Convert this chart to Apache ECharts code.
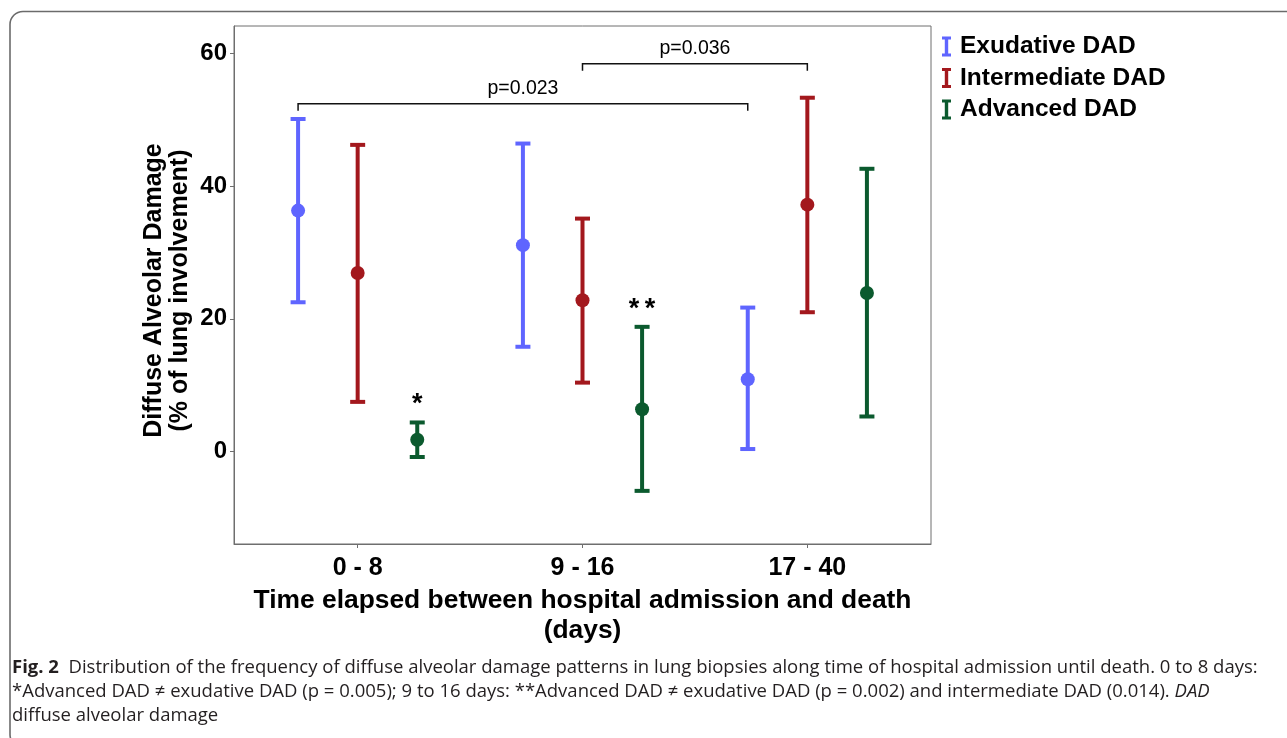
<!DOCTYPE html>
<html><head><meta charset="utf-8">
<script src="https://cdn.jsdelivr.net/npm/echarts@6/dist/echarts.min.js"></script>
<style>html,body{margin:0;padding:0;background:#fff}#c{width:1287px;height:738px}</style>
</head><body><div id="c"></div>
<script>
// ---------- data ----------
const categories = ['0 - 8', '9 - 16', '17 - 40'];
const seriesNames = ['Exudative DAD', 'Intermediate DAD', 'Advanced DAD'];
const exudativeMean = [36.3, 31.1, 10.9];
const exudativeLow = [22.5, 15.8, 0.4];
const exudativeHigh = [50.1, 46.4, 21.7];
const intermediateMean = [26.9, 22.8, 37.2];
const intermediateLow = [7.5, 10.4, 21.0];
const intermediateHigh = [46.2, 35.1, 53.3];
const advancedMean = [1.8, 6.4, 23.9];
const advancedLow = [-0.8, -5.9, 5.3];
const advancedHigh = [4.4, 18.8, 42.6];
const advancedMarks = ['*', '**', ''];
const yTicks = [0, 20, 40, 60];
const bracketLabels = ['p=0.023', 'p=0.036'];
const bracketLevels = [52.4, 58.4];
const bracketFrom = [[0, 0], [1, 1]]; // [category, series]
const bracketTo = [[2, 0], [2, 1]];

// ---------- style / layout ----------
const colors = ['#5F65FF', '#A3181D', '#0B5A2E'];
const groupOffset = [-0.265, 0, 0.265];
const FONT = '"Liberation Sans", Arial, Helvetica, sans-serif';

const means = [exudativeMean, intermediateMean, advancedMean];
const lows = [exudativeLow, intermediateLow, advancedLow];
const highs = [exudativeHigh, intermediateHigh, advancedHigh];
const marks = [null, null, advancedMarks];

function errorBarSeries(idx) {
  return {
    type: 'custom',
    name: seriesNames[idx],
    coordinateSystem: 'cartesian2d',
    encode: { x: 0, y: [1, 2, 3] },
    data: categories.map((c, i) => [i + 1, means[idx][i], lows[idx][i], highs[idx][i]]),
    renderItem: function (params, api) {
      const x = api.value(0) + groupOffset[idx];
      const pm = api.coord([x, api.value(1)]);
      const pl = api.coord([x, api.value(2)]);
      const ph = api.coord([x, api.value(3)]);
      const hw = 7.5;
      const c = colors[idx];
      const st = { stroke: c, lineWidth: 4 };
      const children = [
        { type: 'line', shape: { x1: pm[0], y1: ph[1], x2: pm[0], y2: pl[1] }, style: st },
        { type: 'line', shape: { x1: pm[0] - hw, y1: ph[1], x2: pm[0] + hw, y2: ph[1] }, style: st },
        { type: 'line', shape: { x1: pm[0] - hw, y1: pl[1], x2: pm[0] + hw, y2: pl[1] }, style: st },
        { type: 'circle', shape: { cx: pm[0], cy: pm[1], r: 7 }, style: { fill: c } }
      ];
      const m = marks[idx] ? marks[idx][params.dataIndex] : '';
      if (m) {
        children.push({
          type: 'text', x: pm[0], y: ph[1] - 4,
          style: { text: m.split('').join('\u2009'), font: 'bold 27px ' + FONT, fill: '#000', align: 'center', verticalAlign: 'bottom' }
        });
      }
      return { type: 'group', children: children };
    }
  };
}

const bracketSeries = {
  type: 'custom',
  coordinateSystem: 'cartesian2d',
  silent: true,
  data: bracketLabels.map((l, i) => [bracketFrom[i][0] + 1, bracketTo[i][0] + 1, bracketLevels[i]]),
  encode: { x: [0, 1], y: 2 },
  renderItem: function (params, api) {
    const i = params.dataIndex;
    const x1 = api.value(0) + groupOffset[bracketFrom[i][1]];
    const x2 = api.value(1) + groupOffset[bracketTo[i][1]];
    const p1 = api.coord([x1, api.value(2)]);
    const p2 = api.coord([x2, api.value(2)]);
    const drop = 7;
    return {
      type: 'group',
      children: [
        { type: 'polyline', shape: { points: [[p1[0], p1[1] + drop], [p1[0], p1[1]], [p2[0], p2[1]], [p2[0], p2[1] + drop]] },
          style: { stroke: '#111', lineWidth: 1.5, fill: 'none' } },
        { type: 'text', x: (p1[0] + p2[0]) / 2, y: p1[1] - 5,
          style: { text: bracketLabels[i], font: '19.5px ' + FONT, fill: '#000', align: 'center', verticalAlign: 'bottom' } }
      ]
    };
  }
};

const chart = echarts.init(document.getElementById('c'), null, { renderer: 'canvas' });
chart.setOption({
  backgroundColor: '#fff',
  animation: false,
  grid: { left: 234, top: 26, right: 356, bottom: 194, show: true, borderColor: '#6e6e6e', borderWidth: 1, backgroundColor: 'transparent' },
  legend: {
    orient: 'vertical', left: 937, top: 29, itemGap: 6.5,
    itemWidth: 9, itemHeight: 20,
    data: seriesNames.map((n, i) => ({ name: n, icon: 'path://M0,0H9V3H6.2V17H9V20H0V17H2.8V3H0Z', itemStyle: { color: colors[i] } })),
    textStyle: { fontFamily: FONT, fontWeight: 'bold', fontSize: 24.5, color: '#000', padding: [0, 0, 0, 4], lineHeight: 24 }
  },
  xAxis: {
    type: 'value', min: 0.45, max: 3.55,
    axisLine: { show: true, onZero: false, lineStyle: { color: '#6e6e6e', width: 1 } },
    axisTick: { show: true, length: 4, customValues: [1, 2, 3], lineStyle: { color: '#6e6e6e' } },
    axisLabel: { customValues: [1, 2, 3], formatter: v => categories[Math.round(v) - 1], margin: 12,
      fontFamily: FONT, fontWeight: 'bold', fontSize: 25, color: '#000' },
    splitLine: { show: false },
    name: 'Time elapsed between hospital admission and death\n(days)',
    nameLocation: 'middle', nameGap: 42, nameMoveOverlap: false,
    nameTextStyle: { fontFamily: FONT, fontWeight: 'bold', fontSize: 26.4, color: '#000', lineHeight: 30 }
  },
  yAxis: {
    type: 'value', min: -13.9, max: 64.1,
    axisLine: { show: true, onZero: false, lineStyle: { color: '#6e6e6e', width: 1 } },
    axisTick: { show: true, length: 4, customValues: yTicks, lineStyle: { color: '#6e6e6e' } },
    axisLabel: { customValues: yTicks, margin: 7, fontFamily: FONT, fontWeight: 'bold', fontSize: 24, color: '#000' },
    splitLine: { show: false },
    name: 'Diffuse Alveolar Damage\n(% of lung involvement)',
    nameLocation: 'middle', nameRotate: 90, nameGap: 41, nameMoveOverlap: false,
    nameTextStyle: { fontFamily: FONT, fontWeight: 'bold', fontSize: 25, color: '#000', lineHeight: 26, padding: [0, 11, 0, 0] }
  },
  series: [errorBarSeries(0), errorBarSeries(1), errorBarSeries(2), bracketSeries],
  graphic: [
    { type: 'rect', silent: true, shape: { x: 10, y: 11.5, width: 1320, height: 736, r: 13 },
      style: { fill: 'none', stroke: '#6b6b6b', lineWidth: 1.6 } },
    { type: 'text', left: 12, top: 656, silent: true,
      style: {
        text: '{b|Fig. 2}  Distribution of the frequency of diffuse alveolar damage patterns in lung biopsies along time of hospital admission until death. 0 to 8 days:\n' +
              '*Advanced DAD \u2260 exudative DAD (p = 0.005); 9 to 16 days: **Advanced DAD \u2260 exudative DAD (p = 0.002) and intermediate DAD (0.014). {i|DAD}\n' +
              'diffuse alveolar damage',
        font: '18.5px "Open Sans", sans-serif', fill: '#231f20', lineHeight: 24,
        rich: {
          b: { fontFamily: '"Open Sans", sans-serif', fontWeight: 'bold', fontSize: 18.5, lineHeight: 24, fill: '#231f20' },
          i: { fontFamily: '"Open Sans", sans-serif', fontStyle: 'italic', fontSize: 18.5, lineHeight: 24, fill: '#231f20' }
        }
      } }
  ]
});
</script>
</body></html>
